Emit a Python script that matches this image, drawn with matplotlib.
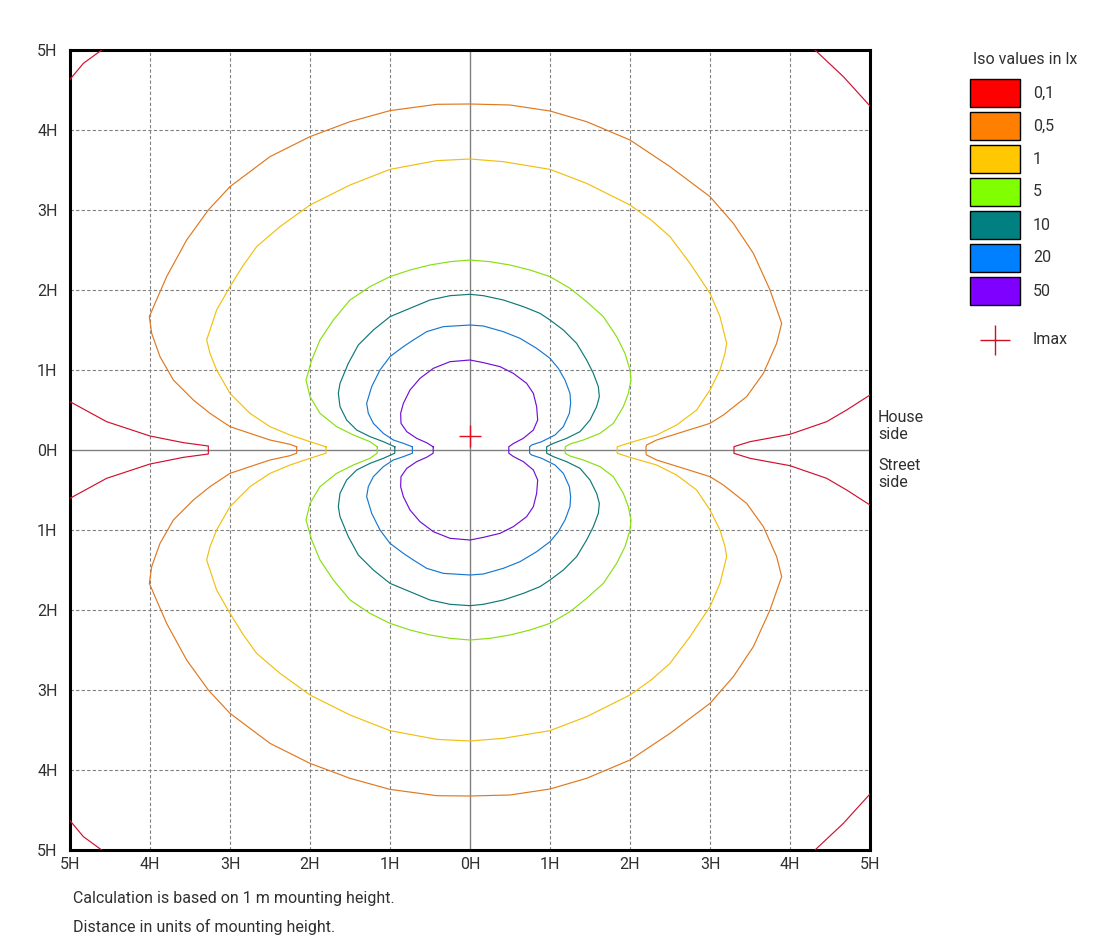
import matplotlib
matplotlib.use("Agg")
import matplotlib.pyplot as plt
from matplotlib.patches import Rectangle

plt.rcParams['font.family'] = ['Roboto', 'DejaVu Sans']

# ---------------- data (units of mounting height H) ----------------
tick_values = [-5, -4, -3, -2, -1, 0, 1, 2, 3, 4, 5]
tick_labels = ["5H", "4H", "3H", "2H", "1H", "0H", "1H", "2H", "3H", "4H", "5H"]

iso_labels = ["0,1", "0,5", "1", "5", "10", "20", "50"]
iso_fill_colors = ["#ff0000", "#ff8000", "#ffc800", "#80ff00", "#008080", "#0080ff", "#8000ff"]
iso_line_colors = ["#d01030", "#e07820", "#f0c010", "#88e010", "#107878", "#1878d0", "#7010d8"]

# upper halves (house side); the diagram is mirror-symmetric about the 0H street line
iso_50 = [(-0.46, 0.04), (-0.54, 0.09), (-0.667, 0.146), (-0.79, 0.229), (-0.8625, 0.333),
          (-0.867, 0.458), (-0.833, 0.583), (-0.75, 0.75), (-0.625, 0.896), (-0.458, 1.021),
          (-0.25, 1.104), (0.0, 1.125), (0.167, 1.092), (0.375, 1.042), (0.542, 0.958),
          (0.708, 0.833), (0.792, 0.708), (0.833, 0.542), (0.846, 0.375), (0.792, 0.25),
          (0.667, 0.146), (0.54, 0.08), (0.485, 0.04)]

iso_20 = [(-0.72, 0.04), (-0.833, 0.083), (-0.958, 0.125), (-1.083, 0.208), (-1.208, 0.333),
          (-1.271, 0.458), (-1.292, 0.583), (-1.229, 0.792), (-1.125, 1.0), (-1.0, 1.167),
          (-0.833, 1.292), (-0.708, 1.375), (-0.542, 1.479), (-0.333, 1.542), (0.0, 1.5625),
          (0.167, 1.55), (0.417, 1.479), (0.625, 1.396), (0.833, 1.271), (1.0, 1.146),
          (1.104, 1.021), (1.1875, 0.875), (1.25, 0.708), (1.258, 0.583), (1.242, 0.458),
          (1.167, 0.292), (1.0625, 0.1875), (0.896, 0.104), (0.771, 0.0625), (0.745, 0.04)]

iso_10 = [(-0.94, 0.04), (-1.083, 0.104), (-1.25, 0.167), (-1.417, 0.25), (-1.542, 0.375),
          (-1.625, 0.542), (-1.646, 0.708), (-1.625, 0.833), (-1.521, 1.083), (-1.396, 1.3125),
          (-1.208, 1.5), (-1.0, 1.667), (-0.75, 1.771), (-0.5, 1.875), (-0.25, 1.929),
          (0.0, 1.946), (0.167, 1.929), (0.417, 1.875), (0.667, 1.792), (0.875, 1.708),
          (1.0, 1.625), (1.167, 1.5), (1.333, 1.333), (1.458, 1.125), (1.542, 0.958),
          (1.604, 0.792), (1.617, 0.667), (1.583, 0.542), (1.5, 0.375), (1.375, 0.229),
          (1.208, 0.146), (1.042, 0.083), (0.958, 0.04)]

iso_5 = [(-1.16, 0.04), (-1.25, 0.104), (-1.458, 0.1875), (-1.667, 0.292), (-1.875, 0.458),
         (-2.0, 0.667), (-2.05, 0.875), (-1.979, 1.125), (-1.875, 1.375), (-1.708, 1.625),
         (-1.5, 1.875), (-1.25, 2.042), (-1.0, 2.167), (-0.75, 2.25), (-0.5, 2.3125),
         (-0.25, 2.354), (0.0, 2.375), (0.25, 2.354), (0.5, 2.3125), (0.75, 2.25),
         (1.0, 2.167), (1.25, 2.021), (1.458, 1.854), (1.667, 1.667), (1.833, 1.417),
         (1.9375, 1.208), (2.0, 1.0), (2.0125, 0.875), (1.979, 0.708), (1.917, 0.542),
         (1.792, 0.333), (1.625, 0.208), (1.417, 0.125), (1.25, 0.075), (1.19, 0.04)]

iso_1 = [(-1.8, 0.04), (-2.0, 0.104), (-2.25, 0.1875), (-2.5, 0.292), (-2.75, 0.458),
         (-3.0, 0.708), (-3.167, 1.0), (-3.25, 1.208), (-3.292, 1.375), (-3.23, 1.56),
         (-3.167, 1.75), (-3.0, 2.042), (-2.84, 2.3), (-2.667, 2.542), (-2.375, 2.792),
         (-2.0, 3.0625), (-1.5, 3.3125), (-1.0, 3.508), (-0.417, 3.617), (0.0, 3.6375),
         (0.417, 3.604), (1.0, 3.508), (1.458, 3.333), (2.0, 3.0625), (2.27, 2.87),
         (2.5, 2.667), (2.75, 2.333), (3.0, 1.958), (3.125, 1.667), (3.208, 1.333),
         (3.1875, 1.208), (3.125, 1.0), (3.0, 0.75), (2.833, 0.5), (2.583, 0.3125),
         (2.333, 0.1875), (2.0, 0.092), (1.84, 0.04)]

iso_05 = [(-2.167, 0.04), (-2.25, 0.071), (-2.5, 0.125), (-2.75, 0.208), (-3.0, 0.292),
          (-3.25, 0.458), (-3.458, 0.625), (-3.708, 0.875), (-3.875, 1.167), (-3.979, 1.458),
          (-4.008, 1.667), (-3.9375, 1.833), (-3.792, 2.167), (-3.542, 2.625), (-3.271, 3.0),
          (-3.0, 3.292), (-2.5, 3.667), (-2.0, 3.917), (-1.5, 4.104), (-1.0, 4.242),
          (-0.417, 4.321), (0.0, 4.325), (0.5, 4.3125), (1.0, 4.2375), (1.458, 4.104),
          (2.0, 3.875), (2.5, 3.542), (3.0, 3.167), (3.292, 2.833), (3.542, 2.458),
          (3.75, 2.0), (3.896, 1.583), (3.833, 1.333), (3.667, 0.958), (3.458, 0.667),
          (3.167, 0.4375), (3.0, 0.333), (2.667, 0.229), (2.333, 0.125), (2.208, 0.0625),
          (2.2, 0.04)]

# 0,1 lx: arms listed from the plot edge towards the 0H line, corners from edge to edge
iso_01_left = [(-5.0, 0.604), (-4.542, 0.354), (-4.0, 0.175), (-3.583, 0.092), (-3.271, 0.05)]
iso_01_right = [(5.0, 0.6875), (4.708, 0.5), (4.458, 0.354), (4.0, 0.196), (3.5, 0.104), (3.3, 0.042)]
iso_01_corner_left = [(-5.0, 4.633), (-4.833, 4.833), (-4.604, 5.0)]
iso_01_corner_right = [(4.3125, 5.0), (4.667, 4.667), (5.0, 4.3)]

imax_point = (0.0, 0.175)

footer_lines = ["Calculation is based on 1 m mounting height.",
                "Distance in units of mounting height."]


def closed_curve(upper):
    """upper half + its mirror image on the street side."""
    xs = [p[0] for p in upper] + [p[0] for p in reversed(upper)] + [upper[0][0]]
    ys = [p[1] for p in upper] + [-p[1] for p in reversed(upper)] + [upper[0][1]]
    return xs, ys


def arm(upper_from_edge):
    """open arm: edge -> 0H line -> mirrored back to edge."""
    xs = [p[0] for p in upper_from_edge] + [p[0] for p in reversed(upper_from_edge)]
    ys = [p[1] for p in upper_from_edge] + [-p[1] for p in reversed(upper_from_edge)]
    return xs, ys


# ---------------- figure ----------------
W, H = 1100, 950
FS = 11.5
fig = plt.figure(figsize=(W / 100, H / 100), dpi=100)
ax = fig.add_axes([70 / W, 1 - 850 / H, 800 / W, 800 / H])
ax.set_xlim(-5, 5)
ax.set_ylim(-5, 5)

text_color = "#303030"
ax.set_xticks(tick_values)
ax.set_xticklabels(tick_labels)
ax.set_yticks(tick_values)
ax.set_yticklabels(tick_labels)
ax.tick_params(length=0, labelsize=FS, labelcolor=text_color, pad=5)
ax.tick_params(axis='y', pad=9)
for sp in ax.spines.values():
    sp.set_linewidth(2.2)
    sp.set_color("black")

# grid
for t in tick_values:
    if t == 0 or abs(t) == 5:
        continue
    ax.axvline(t, color="#808080", lw=0.8, ls=(0, (3, 2)), zorder=1)
    ax.axhline(t, color="#808080", lw=0.8, ls=(0, (3, 2)), zorder=1)
ax.axvline(0, color="#808080", lw=1.0, zorder=1)
ax.axhline(0, color="#808080", lw=1.0, zorder=1)

LW = 0.85
# iso lines
curves = [(iso_05, 1), (iso_1, 2), (iso_5, 3), (iso_10, 4), (iso_20, 5), (iso_50, 6)]
for pts, ci in curves:
    xs, ys = closed_curve(pts)
    ax.plot(xs, ys, color=iso_line_colors[ci], lw=LW, zorder=3)

red = iso_line_colors[0]
for part in (iso_01_left, iso_01_right):
    xs, ys = arm(part)
    ax.plot(xs, ys, color=red, lw=LW, zorder=3)
for part in (iso_01_corner_left, iso_01_corner_right):
    xs = [p[0] for p in part]
    ys = [p[1] for p in part]
    ax.plot(xs, ys, color=red, lw=LW, zorder=3)
    ax.plot(xs, [-y for y in ys], color=red, lw=LW, zorder=3)

# Imax marker
ax.plot([imax_point[0]], [imax_point[1]], marker="+", markersize=16, mew=1.0,
        color="#e01020", zorder=4)

# ---------------- overlay in pixel coordinates ----------------
ov = fig.add_axes([0, 0, 1, 1])
ov.set_xlim(0, W)
ov.set_ylim(H, 0)
ov.axis("off")

ov.text(1025, 60, "Iso values in lx", ha="center", va="center", fontsize=FS, color=text_color)
for i, (lab, col) in enumerate(zip(iso_labels, iso_fill_colors)):
    yc = 93 + 33 * i
    ov.add_patch(Rectangle((970, yc - 14), 50, 28, facecolor=col, edgecolor="black", lw=1.0))
    ov.text(1033, yc, lab, ha="left", va="center", fontsize=FS, color=text_color)

ov.plot([995], [340], marker="+", markersize=22, mew=1.0, color="#d01020")
ov.text(1033, 340, "Imax", ha="left", va="center", fontsize=FS, color=text_color)

ov.text(878, 426, "House\nside", ha="left", va="center", fontsize=FS, color=text_color,
        linespacing=1.2)
ov.text(878, 474, "Street\nside", ha="left", va="center", fontsize=FS, color=text_color,
        linespacing=1.2)

ov.text(73, 899, footer_lines[0], ha="left", va="center", fontsize=FS, color=text_color)
ov.text(73, 927, footer_lines[1], ha="left", va="center", fontsize=FS, color=text_color)

fig.savefig("out.png", dpi=100, facecolor="white")
